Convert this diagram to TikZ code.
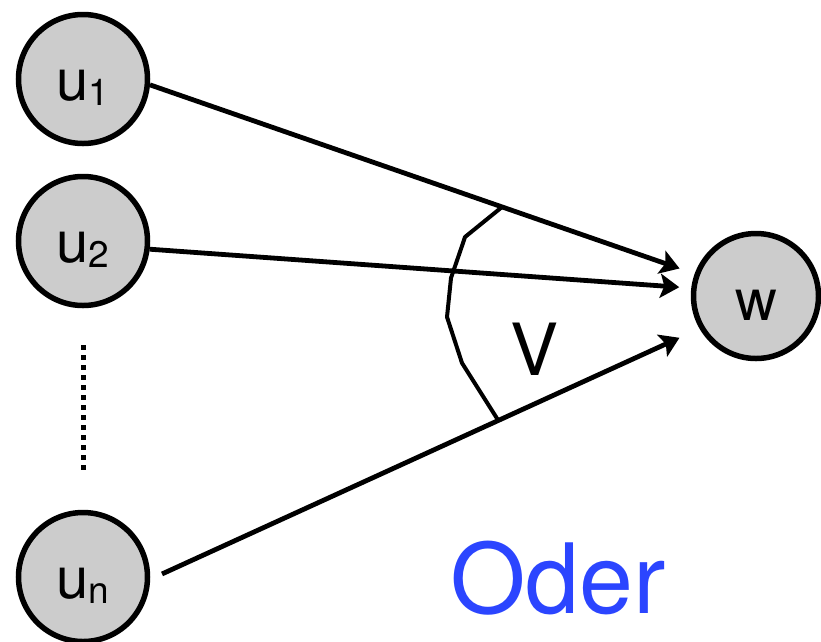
\documentclass[tikz,border=0pt]{standalone}
\usepackage{fontspec}
\setmainfont{TeX Gyre Heros}
\usetikzlibrary{arrows.meta}
\definecolor{nodegray}{RGB}{204,204,204}
\definecolor{oderblue}{RGB}{43,69,255}
\newcommand{\idx}[1]{\raisebox{-5pt}{\fontsize{37}{37}\selectfont #1}}

\begin{document}
\begin{tikzpicture}[x=1pt,y=-1pt]
\useasboundingbox (0,0) rectangle (821,641);
\begin{scope}[every node/.style={circle,line width=5.5pt,draw,fill=nodegray,minimum size=129pt,
              font=\fontsize{58}{58}\selectfont,text height=42pt,text depth=0pt}]
    \node (u1) at (83,79) {u\idx{1}};
    \node (u2) at (83,241) {u\idx{2}};
    \node (un) at (83,577) {u\idx{n}};
    \node (w)[minimum size=125pt,text height=48pt] at (756,296) {w};
\end{scope}

% the dots between u2 and un
\draw[line width=5pt,dash pattern=on 5pt off 5pt,shorten <=37pt,shorten >=35pt] (u2) -- (un);

\begin{scope}[every edge/.style={draw=black,line width=4.8pt,
              -{Stealth[length=19pt,width=24pt,inset=4pt]}}]
    \path (u1.-5) edge[shorten >=16pt] (w.160);
    \path (u2.-7) edge[shorten >=12pt] (w.173);
    \path (un.-2) edge[shorten <=13pt,shorten >=22pt] (w.210);
\end{scope}

% angle marker
\draw[line width=4pt,line join=round] (502,207) -- (465,237) -- (463,243) -- (451,278)
    -- (447,317) -- (462,363) -- (498,420);
\node (v) at (535,349) {\fontsize{72}{72}\selectfont V};

\node[text=oderblue,font=\fontsize{97}{97}\selectfont] (oder) at (558,578) {Oder};
\end{tikzpicture}
\end{document}
